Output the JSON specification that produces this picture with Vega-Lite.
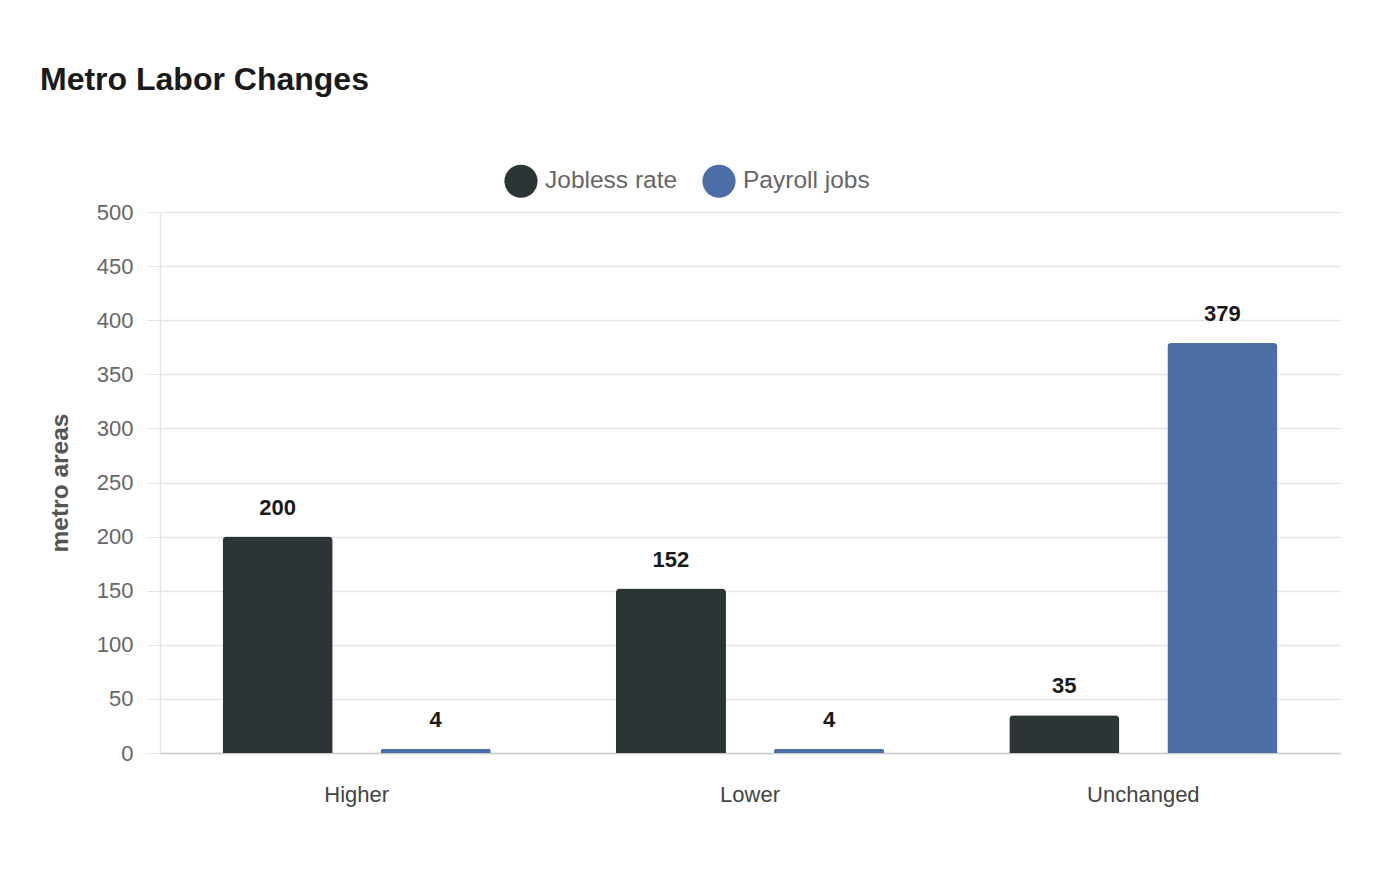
{
  "$schema": "https://vega.github.io/schema/vega-lite/v6.json",
  "width": 1180,
  "height": 541,
  "autosize": {"type": "none"},
  "padding": {"left": 160, "top": 212, "right": 60, "bottom": 127},
  "background": "white",
  "title": {
    "text": "Metro Labor Changes",
    "anchor": "start",
    "frame": "group",
    "orient": "top",
    "dx": -120,
    "offset": 67,
    "fontSize": 32,
    "fontWeight": "bold",
    "font": "Liberation Sans",
    "color": "#1a1a1a"
  },
  "config": {
    "font": "Liberation Sans",
    "view": {"stroke": null}
  },
  "data": {
    "values": [
      {"change": "Higher", "measure": "Jobless rate", "areas": 200},
      {"change": "Higher", "measure": "Payroll jobs", "areas": 4},
      {"change": "Lower", "measure": "Jobless rate", "areas": 152},
      {"change": "Lower", "measure": "Payroll jobs", "areas": 4},
      {"change": "Unchanged", "measure": "Jobless rate", "areas": 35},
      {"change": "Unchanged", "measure": "Payroll jobs", "areas": 379}
    ]
  },
  "encoding": {
    "x": {
      "field": "change",
      "type": "nominal",
      "scale": {"paddingInner": 0, "paddingOuter": 0},
      "axis": {
        "title": null,
        "labelAngle": 0,
        "labelFontSize": 22,
        "labelColor": "#444444",
        "labelPadding": 31,
        "ticks": false,
        "domainColor": "#cccccc",
        "domainWidth": 1.5,
        "grid": false
      }
    },
    "xOffset": {
      "field": "measure",
      "type": "nominal",
      "scale": {"paddingInner": 0.304, "paddingOuter": 0.396}
    },
    "y": {
      "field": "areas",
      "type": "quantitative",
      "scale": {"domain": [0, 500], "nice": false},
      "axis": {
        "title": "metro areas",
        "titleFontSize": 24.5,
        "titleFontWeight": "bold",
        "titleColor": "#555555",
        "titlePadding": 24,
        "values": [0, 50, 100, 150, 200, 250, 300, 350, 400, 450, 500],
        "labelFontSize": 22,
        "labelColor": "#666666",
        "labelPadding": 13,
        "tickSize": 14,
        "tickColor": "#e6e6e6",
        "gridColor": "#e6e6e6",
        "gridWidth": 1.5,
        "domainColor": "#e6e6e6",
        "domainWidth": 1.5
      }
    },
    "color": {
      "field": "measure",
      "type": "nominal",
      "scale": {
        "domain": ["Jobless rate", "Payroll jobs"],
        "range": ["#2d3436", "#4a6ea5"]
      },
      "legend": {
        "title": null,
        "orient": "none",
        "direction": "horizontal",
        "legendX": 344,
        "legendY": -48,
        "symbolType": "circle",
        "symbolSize": 1100,
        "symbolStrokeWidth": 0,
        "labelFontSize": 24.5,
        "labelColor": "#666666",
        "labelOffset": 7,
        "columnPadding": 24
      }
    }
  },
  "layer": [
    {
      "mark": {
        "type": "bar",
        "cornerRadiusTopLeft": 4,
        "cornerRadiusTopRight": 4
      }
    },
    {
      "mark": {
        "type": "text",
        "dy": -29,
        "baseline": "middle",
        "fontSize": 22,
        "fontWeight": "bold",
        "color": "#1a1a1a"
      },
      "encoding": {
        "text": {"field": "areas", "type": "quantitative"},
        "color": {"value": "#1a1a1a"}
      }
    }
  ]
}
